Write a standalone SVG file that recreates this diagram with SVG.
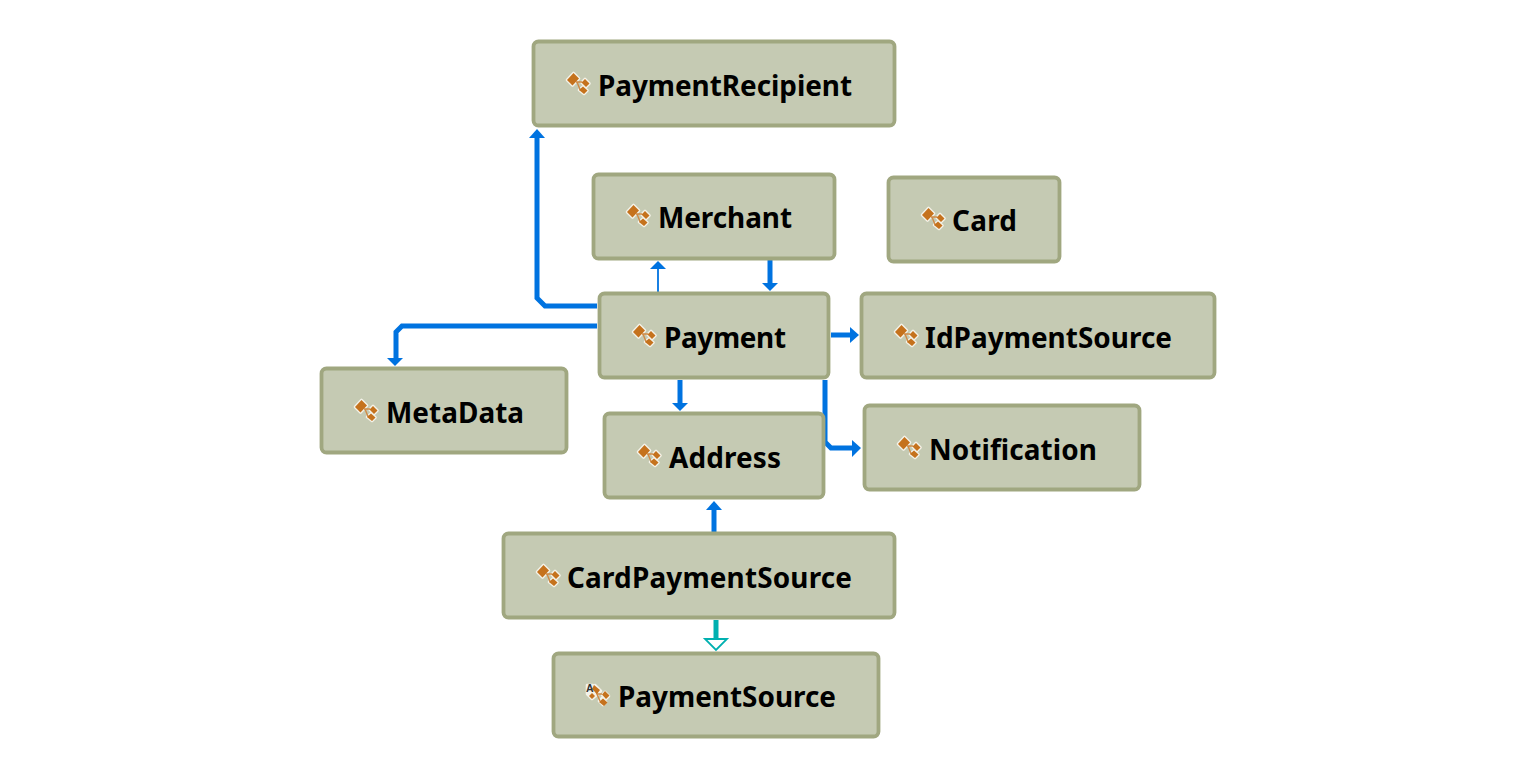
<svg xmlns="http://www.w3.org/2000/svg" width="1536" height="778" viewBox="0 0 1536 778">
<style>
.box{fill:#c5cab3;stroke:#a0a780;stroke-width:3.8}
.t{font-family:"Noto Sans","Open Sans",sans-serif;font-weight:700;font-size:27.9px;fill:#000}
.c{fill:none;stroke:#0073e0;stroke-width:5;stroke-linejoin:miter}
.a{fill:#0073e0}
.h{fill:#f4f2e8;stroke:#f4f2e8;stroke-width:2.6;stroke-linejoin:round}
.o{fill:#c5721d}
.l{fill:none;stroke:#d08a45;stroke-width:1.4}
</style>
<defs>
<g id="ic">
<path class="h" d="M-11-3L-4.500-10L1-4.500L-5.500 2.500Z M3.500-.5L7-4L11.500 .5L8 4Z M1 7L5 3.500L9.500 7.500L6 11Z"/>
<path class="l" d="M-2-1H4M-1-1L2 6.500H4"/>
<path class="o" d="M-11-3L-4.500-10L1-4.500L-5.500 2.500Z M3.500-.5L7-4L11.500 .5L8 4Z M1 7L5 3.500L9.500 7.500L6 11Z"/>
</g>
<g id="ica">
<path class="h" d="M-11-10H-5L-1-4L-1 0L-6 4L-11-1Z M-3-10L3-4L-1 0Z M4 0L7-3L11 1L8 4Z M1 6L4 3L8 7L5 10Z"/>
<path class="l" d="M-1-1H4M-2-3L2 6"/>
<path class="o" d="M-4-10L2-5L-1-1L-6-6Z M4-.5L7-4L11.500 .5L8 4Z M1 7L5 3.500L9.500 7.500L6 11Z M-9 1L-6-2L-3 1L-6 4Z"/>
<text x="-12" y="-3" font-family="Liberation Sans,sans-serif" font-size="10.500" font-weight="700" fill="#333">A</text>
</g>
</defs>
<g id="connectors">
<path class="c" d="M597 306H545L537 298V136"/>
<path class="a" d="M529 138L537 129L545 138Z"/>
<path class="c" style="stroke-width:1.8" d="M658 292V268"/>
<path class="a" d="M650 269L658 261L666 269Z"/>
<path class="c" d="M770 260V284"/>
<path class="a" d="M762 283L770 291L778 283Z"/>
<path class="c" d="M597 326H402L396 332V360"/>
<path class="a" d="M387 358L395 366L403 358Z"/>
<path class="c" d="M831 335H852"/>
<path class="a" d="M850 327L859 335L850 343Z"/>
<path class="c" d="M680 380V404"/>
<path class="a" d="M672 403L680 411L688 403Z"/>
<path class="c" d="M825 380V442L831 448H854"/>
<path class="a" d="M852 440L861 448L852 457Z"/>
<path class="c" d="M714 532V508"/>
<path class="a" d="M706 510L714 501L722 510Z"/>
<path fill="none" stroke="#00b0b0" stroke-width="5" d="M716 620V639"/>
<path fill="#fff" stroke="#00b0b0" stroke-width="1.8" d="M705 639H727L716 650Z"/>
</g>
<g id="PaymentRecipient"><rect class="box" x="533.500" y="41.500" width="361" height="84" rx="5"/><use href="#ic" x="578" y="83"/><text class="t" x="598" y="96" textLength="254">PaymentRecipient</text></g>
<g id="Merchant"><rect class="box" x="593.500" y="174.500" width="241" height="84" rx="5"/><use href="#ic" x="638" y="215"/><text class="t" x="658" y="228" textLength="134">Merchant</text></g>
<g id="Card"><rect class="box" x="888.500" y="177.500" width="171" height="84" rx="5"/><use href="#ic" x="933" y="218"/><text class="t" x="952" y="231" textLength="65">Card</text></g>
<g id="Payment"><rect class="box" x="599.500" y="293.500" width="229" height="84" rx="5"/><use href="#ic" x="644" y="335"/><text class="t" x="664" y="348" textLength="122">Payment</text></g>
<g id="IdPaymentSource"><rect class="box" x="861.500" y="293.500" width="353" height="84" rx="5"/><use href="#ic" x="906" y="335"/><text class="t" x="925" y="348" textLength="247">IdPaymentSource</text></g>
<g id="MetaData"><rect class="box" x="321.500" y="368.500" width="245" height="84" rx="5"/><use href="#ic" x="366" y="410"/><text class="t" x="386" y="423" textLength="138">MetaData</text></g>
<g id="Address"><rect class="box" x="604.500" y="413.500" width="219" height="84" rx="5"/><use href="#ic" x="649" y="455"/><text class="t" x="669" y="468" textLength="112">Address</text></g>
<g id="Notification"><rect class="box" x="864.500" y="405.500" width="275" height="84" rx="5"/><use href="#ic" x="909" y="447"/><text class="t" x="929" y="460" textLength="168">Notification</text></g>
<g id="CardPaymentSource"><rect class="box" x="503.500" y="533.500" width="391" height="84" rx="5"/><use href="#ic" x="548" y="575"/><text class="t" x="567" y="588" textLength="285">CardPaymentSource</text></g>
<g id="PaymentSource"><rect class="box" x="553.500" y="653.500" width="325" height="83" rx="5"/><use href="#ica" x="598" y="695"/><text class="t" x="618" y="707" textLength="218">PaymentSource</text></g>
</svg>
